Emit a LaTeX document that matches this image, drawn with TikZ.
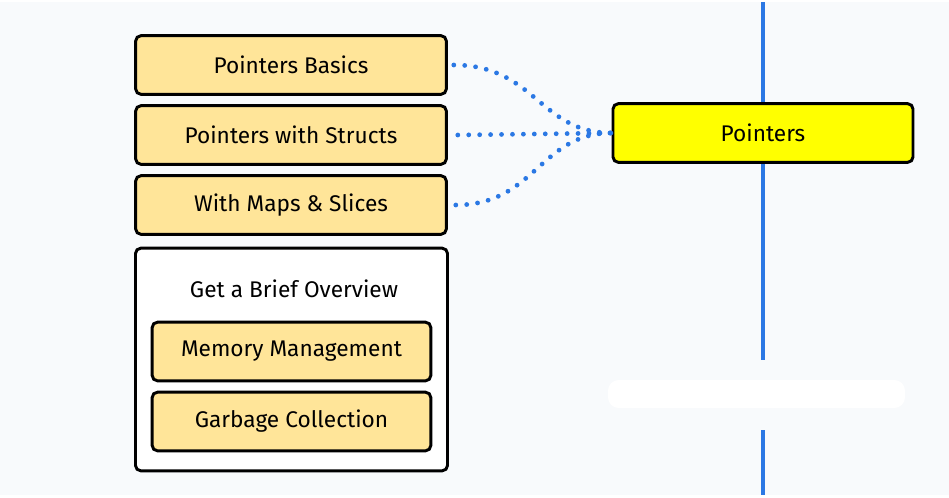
\documentclass[tikz,border=0pt]{standalone}
\usepackage{fontspec}
\setmainfont{Fira Sans}
\definecolor{bgcol}{RGB}{248,250,252}
\definecolor{topiccol}{RGB}{255,229,153}
\definecolor{linecol}{RGB}{43,120,228}
\definecolor{maincol}{RGB}{255,255,0}

\begin{document}
\begin{tikzpicture}[x=0.75pt,y=-0.75pt]
        \tikzset{topic/.style = {draw,line width=2.2pt,rounded corners=4pt,fill=topiccol,
                minimum width=233pt,minimum height=44pt,font=\fontsize{17}{19}\selectfont}};
        \tikzset{subtopic/.style = {topic,minimum width=209pt}};
        \tikzset{link/.style = {draw=linecol,line width=3.6pt,line cap=round,dash pattern=on 0pt off 8.2pt}};
        \fill[bgcol] (0,0) rectangle (949,493);
        % spine
        \draw[linecol,line width=3pt] (763,0) -- (763,358);
        \draw[linecol,line width=3pt] (763,428) -- (763,493);
        \fill[white,rounded corners=8pt] (608,378) rectangle (905,406);
        % main node
        \node[topic,fill=maincol,minimum width=225pt] (ptr) at (763,131) {Pointers};
        % topics
        \node[topic] (basics) at (291,63) {Pointers Basics};
        \node[topic] (structs) at (291,133) {Pointers with Structs};
        \node[topic] (maps) at (291,203) {With Maps \& Slices};
        % overview group
        \node[draw,line width=2.2pt,rounded corners=4pt,fill=white,minimum width=234pt,minimum height=167pt]
                (group) at (291.5,357.5) {};
        \node[font=\fontsize{17}{19}\selectfont] (overview) at (294,287) {Get a Brief Overview};
        \node[subtopic] (memory) at (291.5,349.5) {Memory Management};
        \node[subtopic] (garbage) at (291.5,419.5) {Garbage Collection};
        % links
        \path[link] (basics.east) ++(6,0) .. controls (535,63) and (540,131) .. (ptr.west);
        \path[link] (structs.east) ++(10,0) -- (ptr.west);
        \path[link] (maps.east) ++(8,0) .. controls (535,203) and (540,131) .. (ptr.west);
    \end{tikzpicture}
\end{document}
